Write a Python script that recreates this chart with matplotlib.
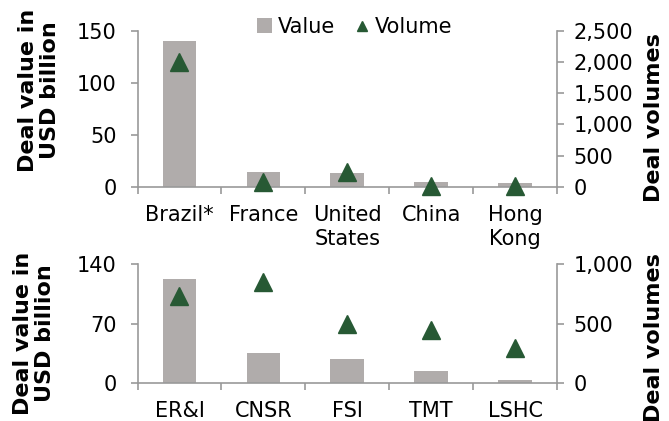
import matplotlib
matplotlib.use("Agg")
import matplotlib.pyplot as plt
from matplotlib.lines import Line2D
from matplotlib.patches import Patch
import numpy as np

countries = ["Brazil*", "France", "United\nStates", "China", "Hong\nKong"]
country_value = [140, 14, 13.2, 4.2, 3.5]
country_volume = [2000, 70, 240, 15, 15]

sectors = ["ER&I", "CNSR", "FSI", "TMT", "LSHC"]
sector_value = [122, 35, 29, 14, 4]
sector_volume = [735, 850, 500, 443, 300]

top_left_ticks = [0, 50, 100, 150]
top_right_ticks = [0, 500, 1000, 1500, 2000, 2500]
bot_left_ticks = [0, 70, 140]
bot_right_ticks = [0, 500, 1000]

BAR = "#B0ACAB"
GREEN = "#275934"
AX = "#999999"
FS = 15
LFS = 16

plt.rcParams["font.family"] = ["DejaVu Sans"]

W, H = 669, 421
fig = plt.figure(figsize=(W / 100, H / 100), dpi=100)

def panel(rect, cats, vals, vols, lt, rt, rfmt):
    ax = fig.add_axes(rect)
    x = np.arange(len(cats))
    ax.bar(x, vals, width=0.4, color=BAR, zorder=2)
    ax.set_xlim(-0.5, len(cats) - 0.5)
    ax.set_ylim(lt[0], lt[-1])
    ax.set_yticks(lt)
    ax.set_xticks(x)
    ax.set_xticklabels(cats, fontsize=FS, linespacing=1.25)
    ax.set_xticks(np.arange(len(cats) + 1) - 0.5, minor=True)
    ax.tick_params(axis="x", which="major", length=0, pad=13)
    ax.tick_params(axis="x", which="minor", length=5, color=AX, width=1.2)
    ax.tick_params(axis="y", labelsize=FS, length=5, color=AX, width=1.2, pad=10)
    for s in ["top", "right"]:
        ax.spines[s].set_visible(False)
    for s in ["left", "bottom"]:
        ax.spines[s].set_color(AX)
        ax.spines[s].set_linewidth(1.2)
    ax2 = ax.twinx()
    ax2.plot(x, vols, linestyle="none", marker="^", markersize=13,
             color=GREEN, zorder=3, clip_on=False)
    ax2.set_ylim(rt[0], rt[-1])
    ax2.set_yticks(rt)
    ax2.set_yticklabels([rfmt(v) for v in rt])
    ax2.tick_params(axis="y", labelsize=FS, length=5, color=AX, width=1.2, pad=7)
    for s in ["top", "left", "bottom"]:
        ax2.spines[s].set_visible(False)
    ax2.spines["right"].set_color(AX)
    ax2.spines["right"].set_linewidth(1.2)
    return ax, ax2

fmt = lambda v: f"{v:,}"
L, R = 137.5, 557.0
a1, b1 = panel([L / W, 1 - 186.7 / H, (R - L) / W, (186.7 - 30.7) / H],
               countries, country_value, country_volume,
               top_left_ticks, top_right_ticks, fmt)
a2, b2 = panel([L / W, 1 - 383.3 / H, (R - L) / W, (383.3 - 264.0) / H],
               sectors, sector_value, sector_volume,
               bot_left_ticks, bot_right_ticks, fmt)

left_label = "Deal value in\nUSD billion"
right_label = "Deal volumes"
fig.text(39 / W, 1 - 90 / H, left_label, rotation=90, ha="center", va="center",
         fontsize=LFS, fontweight="bold", linespacing=1.15)
fig.text(34 / W, 1 - 333 / H, left_label, rotation=90, ha="center", va="center",
         fontsize=LFS, fontweight="bold", linespacing=1.15)
fig.text(654 / W, 1 - 118 / H, right_label, rotation=90, ha="center", va="center",
         fontsize=LFS, fontweight="bold")
fig.text(654 / W, 1 - 338 / H, right_label, rotation=90, ha="center", va="center",
         fontsize=LFS, fontweight="bold")

handles = [Patch(facecolor=BAR, edgecolor="none"),
           Line2D([], [], linestyle="none", marker="^", markersize=7, color=GREEN)]
fig.legend(handles, ["Value", "Volume"], loc="center",
           bbox_to_anchor=(355 / W, 1 - 27 / H), ncol=2, frameon=False,
           fontsize=FS, handlelength=0.7, handleheight=0.7, handletextpad=0.3,
           columnspacing=0.9, borderpad=0, borderaxespad=0)

fig.savefig("out.png", dpi=100)
